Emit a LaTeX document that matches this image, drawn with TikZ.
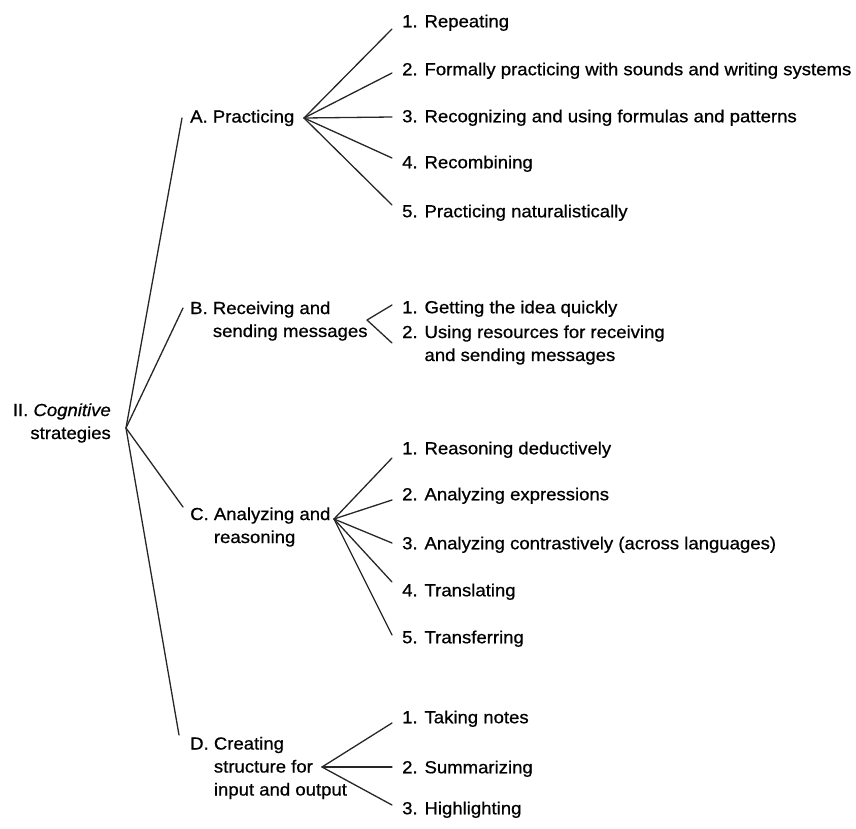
\documentclass[tikz,border=0pt]{standalone}
\usepackage{fontspec}
\setmainfont{Liberation Sans}[FakeStretch=1.06,FakeBold=0.7]
\usetikzlibrary{positioning}

\begin{document}
\begin{tikzpicture}[
x=1pt,y=-1pt,
Heads/.style={anchor=west,align=left,inner sep=0pt,font=\fontsize{17.5}{23}\selectfont},
Leaves/.style={anchor=west,inner sep=0pt,text height=12.5pt,text depth=0pt,font=\fontsize{17.5}{23}\selectfont},
Branches/.style={draw=black!85,line width=1.3pt,line cap=round}
]
\useasboundingbox (0,0) rectangle (856,828);

% root and its fan
\node[Heads,anchor=east,align=right] (root) at (111,423) {II. \textit{Cognitive}\\strategies};
\coordinate (Rfan) at (126,428);

% the four groups
\node[Heads] (A) at (190,118) {A. Practicing};
\node[Heads] (B) at (190,321) {B. Receiving and\\\hphantom{B. }sending messages};
\node[Heads] (C) at (190,527) {C. Analyzing and\\\hphantom{C. }reasoning};
\node[Heads] (D) at (190,768) {D. Creating\\\hphantom{D. }structure for\\\hphantom{D. }input and output};

\draw[Branches] (Rfan) -- ([xshift=-8]A.west);
\draw[Branches] (Rfan) -- ([shift={(-7,-13)}]B.west);
\draw[Branches] (Rfan) -- ([shift={(-7,-20)}]C.west);
\draw[Branches] (Rfan) -- ([shift={(-11,-33)}]D.west);

\coordinate (Afan) at (304,118);
\coordinate (Bfan) at (367,320);
\coordinate (Cfan) at (334,519);
\coordinate (Dfan) at (322,767);

% A. Practicing
\foreach \i/\yy/\dy/\txt in {1/21/8/Repeating,
  2/69/4/Formally practicing with sounds and writing systems,
  3/116/1/Recognizing and using formulas and patterns,
  4/162/-4/Recombining,
  5/211/-6/Practicing naturalistically}{
  \node[Leaves] (A\i) at (402,\yy) {\i. \txt};
  \draw[Branches] (Afan) -- ([shift={(-10,\dy)}]A\i.west);
}

% B. Receiving and sending messages
\node[Leaves] (B1) at (402,307) {1. Getting the idea quickly};
\node[Heads] (B2) at (402,345) {2. Using resources for receiving\\\hphantom{2. }and sending messages};
\draw[Branches] (Bfan) -- ([shift={(-10,-2)}]B1.west);
\draw[Branches] (Bfan) -- ([shift={(-10,-2)}]B2.west);

% C. Analyzing and reasoning
\foreach \i/\yy/\dy/\txt in {1/448/10/Reasoning deductively,
  2/494/6/Analyzing expressions,
  3/543/0/Analyzing contrastively (across languages),
  4/590/-8/Translating,
  5/637/-2/Transferring}{
  \node[Leaves] (C\i) at (402,\yy) {\i. \txt};
  \draw[Branches] (Cfan) -- ([shift={(-10,\dy)}]C\i.west);
}

% D. Creating structure for input and output
\foreach \i/\yy/\dy/\txt in {1/717/6/Taking notes,
  2/767/0/Summarizing,
  3/808/-3/Highlighting}{
  \node[Leaves] (D\i) at (402,\yy) {\i. \txt};
  \draw[Branches] (Dfan) -- ([shift={(-10,\dy)}]D\i.west);
}

\end{tikzpicture}
\end{document}
